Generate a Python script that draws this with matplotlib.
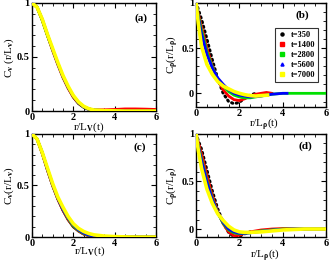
import matplotlib
matplotlib.use("Agg")
import matplotlib.pyplot as plt
from matplotlib.ticker import MultipleLocator
from matplotlib.lines import Line2D

plt.rcParams['font.family'] = ['Liberation Serif', 'DejaVu Serif']
plt.rcParams['font.weight'] = 'bold'
plt.rcParams['mathtext.fontset'] = 'custom'
plt.rcParams['mathtext.rm'] = 'Liberation Serif:bold'
plt.rcParams['mathtext.it'] = 'Liberation Serif:bold'
plt.rcParams['mathtext.bf'] = 'Liberation Serif:bold'

times = ["t=350", "t=1400", "t=2800", "t=5600", "t=7000"]
colors = ["black", "red", "#00e000", "blue", "yellow"]

# ---- panel (a): velocity correlation ----
xa = [0, 0.25, 0.5, 0.75, 1.0, 1.25, 1.5, 1.75, 2.0, 2.25, 2.5, 2.75, 3.0, 3.5, 4.0, 4.5, 5.0, 5.5, 6.0]
ya_350 = [1, 0.96, 0.84, 0.70, 0.57, 0.44, 0.32, 0.22, 0.13, 0.07, 0.035, 0.015, 0.005, 0.0, 0.0, 0.0, 0.0, 0.0, 0.0]
ya_1400 = [1, 0.96, 0.84, 0.70, 0.56, 0.43, 0.31, 0.21, 0.13, 0.075, 0.04, 0.02, 0.012, 0.012, 0.015, 0.02, 0.02, 0.018, 0.015]
ya_2800 = [1, 0.96, 0.84, 0.70, 0.57, 0.44, 0.32, 0.22, 0.14, 0.08, 0.04, 0.02, 0.01, 0.005, 0.003, 0.0, 0.0, 0.0, 0.0]
ya_5600 = [1, 0.96, 0.85, 0.71, 0.57, 0.44, 0.32, 0.22, 0.14, 0.08, 0.04, 0.02, 0.01, 0.004, 0.002, 0.0, 0.0, 0.0, 0.0]
ya_7000 = [1, 0.96, 0.85, 0.71, 0.58, 0.45, 0.33, 0.23, 0.145, 0.085, 0.045, 0.022, 0.01, 0.004, 0.002, 0.0, 0.0, 0.0, 0.0]

# ---- panel (b): density correlation ----
xb_350 = [0, 0.1, 0.25, 0.5, 0.75, 1.0, 1.25, 1.5, 1.75, 2.0, 2.25, 2.5, 2.75]
yb_350 = [1, 0.93, 0.82, 0.60, 0.37, 0.16, 0.0, -0.09, -0.115, -0.10, -0.05, -0.02, 0.0]
xb_1400 = [0, 0.1, 0.25, 0.5, 0.75, 1.0, 1.25, 1.5, 1.75, 2.0, 2.25, 2.5, 2.75, 3.0, 3.25, 3.5]
yb_1400 = [1, 0.88, 0.74, 0.50, 0.30, 0.15, 0.04, -0.03, -0.07, -0.08, -0.06, -0.03, -0.01, 0.0, 0.01, 0.0]
xb_2800 = [0, 0.1, 0.25, 0.5, 0.75, 1.0, 1.25, 1.5, 1.75, 2.0, 2.25, 2.5, 2.75, 3.0, 3.5, 4.0, 4.5, 5.0, 5.5, 6.0]
yb_2800 = [1, 0.86, 0.70, 0.46, 0.29, 0.16, 0.08, 0.02, -0.02, -0.04, -0.05, -0.05, -0.04, -0.03, -0.01, 0.0, 0.0, 0.0, 0.0, 0.0]
xb_5600 = [0, 0.1, 0.25, 0.5, 0.75, 1.0, 1.25, 1.5, 1.75, 2.0, 2.5, 3.0, 3.5, 4.0, 4.2]
yb_5600 = [1, 0.84, 0.66, 0.43, 0.28, 0.17, 0.10, 0.04, 0.0, -0.02, -0.04, -0.03, -0.01, 0.0, 0.0]
xb_7000 = [0, 0.1, 0.25, 0.5, 0.75, 1.0, 1.25, 1.5, 1.75, 2.0, 2.25, 2.5, 2.75, 3.0, 3.3]
yb_7000 = [1, 0.78, 0.52, 0.32, 0.21, 0.13, 0.08, 0.05, 0.02, 0.0, -0.015, -0.025, -0.03, -0.025, -0.02]

# ---- panel (c): velocity correlation ----
xc = [0, 0.25, 0.5, 0.75, 1.0, 1.25, 1.5, 1.75, 2.0, 2.25, 2.5, 2.75, 3.0, 3.5, 4.0, 4.5, 5.0, 5.5, 6.0]
yc_350 = [1, 0.95, 0.81, 0.65, 0.50, 0.37, 0.26, 0.17, 0.10, 0.06, 0.03, 0.015, 0.005, 0.0, 0.0, 0.0, 0.0, 0.0, 0.0]
yc_1400 = [1, 0.95, 0.81, 0.65, 0.50, 0.37, 0.26, 0.17, 0.105, 0.06, 0.03, 0.015, 0.006, 0.0, 0.0, 0.0, 0.0, 0.0, 0.0]
yc_2800 = [1, 0.95, 0.82, 0.66, 0.51, 0.38, 0.27, 0.18, 0.11, 0.065, 0.035, 0.018, 0.008, 0.002, 0.0, 0.0, 0.0, 0.0, 0.0]
yc_5600 = [1, 0.95, 0.82, 0.66, 0.51, 0.38, 0.27, 0.185, 0.12, 0.07, 0.04, 0.02, 0.01, 0.003, 0.0, 0.0, 0.0, 0.0, 0.0]
yc_7000 = [1, 0.95, 0.82, 0.67, 0.52, 0.39, 0.29, 0.20, 0.13, 0.085, 0.055, 0.035, 0.022, 0.01, 0.005, 0.002, 0.0, 0.0, 0.0]

# ---- panel (d): density correlation ----
xd = [0, 0.1, 0.25, 0.5, 0.75, 1.0, 1.25, 1.5, 1.75, 2.0, 2.25, 2.5, 3.0, 3.5, 4.0, 4.5, 5.0, 5.5, 6.0]
yd_350 = [1, 0.93, 0.84, 0.62, 0.40, 0.21, 0.07, -0.035, -0.08, -0.075, -0.05, -0.03]
yd_1400 = [1, 0.91, 0.79, 0.56, 0.35, 0.18, 0.055, -0.03, -0.07, -0.065, -0.045, -0.03, -0.01, 0.0, 0.005, 0.003, 0.0, 0.0, 0.0]
yd_2800 = [1, 0.88, 0.74, 0.51, 0.32, 0.17, 0.06, -0.01, -0.04, -0.05, -0.045, -0.04, -0.02, -0.01, 0.0, 0.0, 0.0, 0.0, 0.0]
yd_5600 = [1, 0.87, 0.72, 0.49, 0.31, 0.17, 0.07, 0.0, -0.03, -0.045, -0.045, -0.04, -0.025, -0.012, -0.005, 0.0, 0.0, 0.0, 0.0]
yd_7000 = [1, 0.83, 0.64, 0.42, 0.27, 0.16, 0.09, 0.03, -0.01, -0.03, -0.035, -0.035, -0.03, -0.02, -0.01, -0.005, 0.0, 0.0, 0.0]
xd_350 = xd[:len(yd_350)]

panels = [
    dict(pos=[0.097, 0.576, 0.377, 0.413], label="(a)", lpos=(0.88, 0.86),
         ylim=(0, 1), ylab=r"C$_{\rm v}$ (r/L$_{\rm v}$)", xlab=r"r/L$_{\rm V}$(t)", xlc=(0.46, -0.09),
         series=[(xa, ya_350), (xa, ya_1400), (xa, ya_2800), (xa, ya_5600), (xa, ya_7000)]),
    dict(pos=[0.596, 0.592, 0.395, 0.397], label="(b)", lpos=(0.82, 0.88),
         ylim=(-0.15, 1), ylab=r"C$_\rho$(r/L$_\rho$)", xlab=r"r/L$_\rho$(t)", xlc=(0.52, -0.09),
         series=[(xb_350, yb_350), (xb_1400, yb_1400), (xb_2800, yb_2800), (xb_5600, yb_5600), (xb_7000, yb_7000)]),
    dict(pos=[0.097, 0.095, 0.377, 0.394], label="(c)", lpos=(0.87, 0.87),
         ylim=(0, 1), ylab=r"C$_{\rm v}$(r/L$_{\rm v}$)", xlab=r"r/L$_{\rm V}$(t)", xlc=(0.47, -0.075),
         series=[(xc, yc_350), (xc, yc_1400), (xc, yc_2800), (xc, yc_5600), (xc, yc_7000)]),
    dict(pos=[0.596, 0.095, 0.395, 0.394], label="(d)", lpos=(0.84, 0.88),
         ylim=(-0.085, 1), ylab=r"C$_\rho$(r/L$_\rho$)", xlab=r"r/L$_\rho$(t)", xlc=(0.53, -0.095),
         series=[(xd_350, yd_350), (xd, yd_1400), (xd, yd_2800), (xd, yd_5600), (xd, yd_7000)]),
]

fig = plt.figure(figsize=(3.29, 2.62), dpi=100)
for i, p in enumerate(panels):
    ax = fig.add_axes(p["pos"])
    density = i in (1, 3)
    for k, ((x, y), c, t) in enumerate(zip(p["series"], colors, times)):
        if density and k == 0:
            ax.plot(x, y, color=c, lw=2.2, ls=(0, (0.4, 1.2)), dash_capstyle='round', zorder=1.5)
        else:
            ax.plot(x, y, color=c, lw=2.6 if k == 4 else 2.0, zorder=2 + k)
    ax.set_xlim(0, 6)
    ax.set_ylim(*p["ylim"])
    ax.xaxis.set_major_locator(MultipleLocator(2))
    ax.xaxis.set_minor_locator(MultipleLocator(0.5))
    ax.yaxis.set_major_locator(MultipleLocator(0.5))
    ax.yaxis.set_minor_locator(MultipleLocator(0.1))
    ax.tick_params(which='both', direction='in', top=True, right=True, labelsize=7.5, pad=1.5)
    ax.tick_params(which='major', length=3.5, width=0.8)
    ax.tick_params(which='minor', length=2, width=0.6)
    ax.set_yticks([0, 0.5, 1])
    ax.set_yticklabels(["0", "0.5", "1"])
    for s in ax.spines.values():
        s.set_linewidth(1.0)
    ax.set_xlabel(p["xlab"], fontsize=8)
    ax.xaxis.set_label_coords(*p["xlc"])
    ax.set_ylabel(p["ylab"], fontsize=8, labelpad=1)
    ax.text(*p["lpos"], p["label"], transform=ax.transAxes, ha='center', va='center', fontsize=8, fontweight='bold')
    if i == 1:
        handles = [Line2D([], [], color=c, marker=m, ls='none', markersize=2.2)
                   for c, m in zip(colors, ['o', 's', 's', '^', 's'])]
        leg = ax.legend(handles, times, loc='upper right', bbox_to_anchor=(0.94, 0.76),
                        fontsize=6, frameon=True, fancybox=False, edgecolor='black',
                        handlelength=1.0, handletextpad=0.6, borderpad=0.35, labelspacing=0.25,
                        borderaxespad=0)
        leg.get_frame().set_linewidth(0.8)

fig.savefig("out.png", dpi=100)
